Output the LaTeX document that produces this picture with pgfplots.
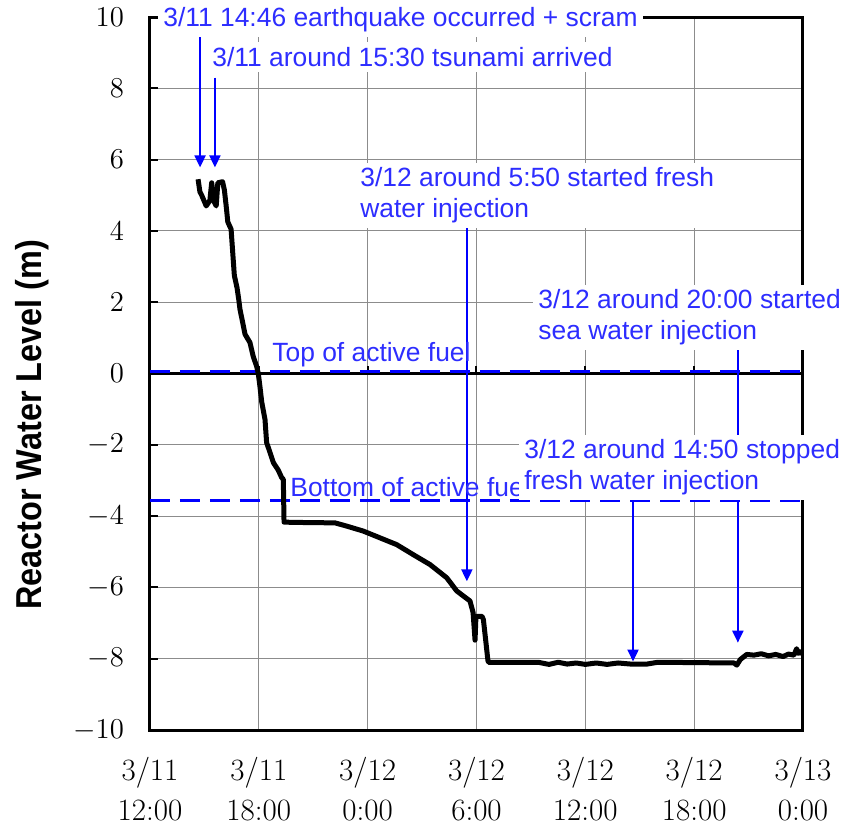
\documentclass[border=0pt]{standalone}
\usepackage{fontspec}
\usepackage{graphicx}
\usepackage{pgfplots}
\pgfplotsset{compat=1.18}
\usetikzlibrary{arrows.meta}
\newfontfamily\annfont{Liberation Sans}
\definecolor{anncol}{RGB}{45,45,255}
\definecolor{gridcol}{RGB}{140,140,140}

\begin{document}
\begin{tikzpicture}
\begin{axis}[
    at={(0,0)}, anchor=south west,
    scale only axis, width=326.5pt, height=356.5pt,
    xmin=0, xmax=36, ymin=-10, ymax=10,
    xtick={0,6,...,36},
    xticklabels={{3/11\\12:00},{3/11\\18:00},{3/12\\0:00},{3/12\\6:00},{3/12\\12:00},{3/12\\18:00},{3/13\\0:00}},
    ytick={-10,-8,...,10},
    grid=major,
    grid style={gridcol, line width=0.5pt},
    axis line style={line width=1.5pt},
    tick align=inside,
    ytick pos=left,
    xtick pos=bottom,
    major tick length=4pt,
    xtick style={draw=none},
    ytick style={black, line width=1pt},
    x tick label style={font=\fontsize{15.5}{20}\selectfont, align=center, yshift=-10pt},
    y tick label style={font=\fontsize{13.5}{16}\selectfont, xshift=-9.5pt},
    ylabel={\scalebox{0.9}[1]{Reactor Water Level (m)}},
    ylabel style={font=\annfont\bfseries\fontsize{18}{20}\selectfont,
        at={(axis description cs:-0.181,0.428)}, anchor=center},
]
% zero line with its small ticks
\addplot[black, line width=1.2pt] coordinates {(0,0)(36,0)};
\addplot[black, line width=1pt, ycomb] coordinates {(6,0.2)(12,0.2)(18,0.2)(24,0.2)(30,0.2)};

% top and bottom of active fuel
\addplot[blue, line width=1.5pt, dash pattern=on 10pt off 5pt] coordinates {(0,0.05)(36,0.05)};
\addplot[blue, line width=1.5pt, dash pattern=on 10pt off 5pt] coordinates {(0,-3.55)(36,-3.55)};

% reactor water level
\addplot[black, line width=2.5pt, line join=round] coordinates {
(2.65,5.45)(2.75,5.1)(2.85,5.0)(3.1,4.7)(3.3,4.85)(3.4,5.35)(3.55,4.8)(3.65,4.7)
(3.74,5.35)(4.0,5.38)(4.1,5.15)(4.2,4.7)(4.29,4.25)(4.47,4.05)(4.56,3.4)(4.65,2.75)
(4.8,2.4)(4.9,2.05)(4.96,1.8)(5.11,1.43)(5.24,1.1)(5.51,0.87)(5.69,0.48)(5.88,0.2)
(5.97,0.0)(6.06,-0.36)(6.16,-0.8)(6.34,-1.29)(6.43,-1.94)(6.62,-2.22)(6.8,-2.5)
(7.06,-2.7)(7.26,-2.92)(7.35,-2.97)(7.39,-4.17)(8.5,-4.18)(10.2,-4.19)(10.84,-4.28)
(11.76,-4.42)(12.68,-4.61)(13.6,-4.8)(14.51,-5.08)(15.44,-5.36)(16.36,-5.73)
(16.91,-6.1)(17.64,-6.38)(17.81,-6.7)(17.92,-7.48)(17.97,-6.81)(18.3,-6.81)
(18.38,-6.9)(18.63,-8.05)(18.66,-8.1)(21.4,-8.1)(22,-8.16)(22.5,-8.1)(23,-8.15)
(23.5,-8.12)(24,-8.16)(24.6,-8.12)(25.2,-8.16)(25.8,-8.12)(26.5,-8.15)(27.4,-8.15)
(28,-8.1)(32.2,-8.12)(32.35,-8.18)(32.55,-8.02)(32.7,-7.96)(32.9,-7.88)(33.3,-7.9)
(33.7,-7.86)(34.1,-7.92)(34.5,-7.88)(34.9,-7.94)(35.2,-7.87)(35.5,-7.9)(35.65,-7.72)
(35.75,-7.85)(35.9,-7.8)(36,-7.88)};

% event arrows
\addplot[blue, line width=1pt, -{Triangle[width=5.5pt,length=6pt]}] coordinates {(2.76,9.57)(2.76,5.78)};
\addplot[blue, line width=1pt, -{Triangle[width=5.5pt,length=6pt]}] coordinates {(3.58,8.30)(3.58,5.78)};
\addplot[blue, line width=1pt, -{Triangle[width=5.5pt,length=6pt]}] coordinates {(17.47,4.18)(17.47,-5.83)};
\addplot[blue, line width=1pt, -{Triangle[width=5.5pt,length=6pt]}] coordinates {(26.63,-3.45)(26.63,-8.08)};
\addplot[blue, line width=1pt, -{Triangle[width=5.5pt,length=6pt]}] coordinates {(32.41,1.2)(32.41,-7.55)};
\end{axis}

\tikzset{ann/.style={anchor=west, inner sep=2.5pt, text=anncol, align=left,
    font=\annfont\fontsize{13.2}{15.5}\selectfont}}
\node[ann] at (58.5pt,187.5pt) {Top of active fuel};
\node[ann] at (67.5pt,121.5pt) {Bottom of active fuel};
\node[ann, fill=white] at (4pt,355pt) {3/11 14:46 earthquake occurred + scram};
\node[ann, fill=white] at (28.5pt,336.5pt) {3/11 around 15:30 tsunami arrived};
\node[ann, fill=white] at (102.5pt,267.25pt) {3/12 around 5:50 started fresh\\water injection};
\node[ann, fill=white] at (191.5pt,206.25pt) {3/12 around 20:00 started\\sea water injection};
\node[ann, fill=white] at (184.5pt,131.25pt) {3/12 around 14:50 stopped\\fresh water injection};

\pgfresetboundingbox
\path (-75pt,-51pt) rectangle (346pt,365pt);
\end{tikzpicture}
\end{document}
